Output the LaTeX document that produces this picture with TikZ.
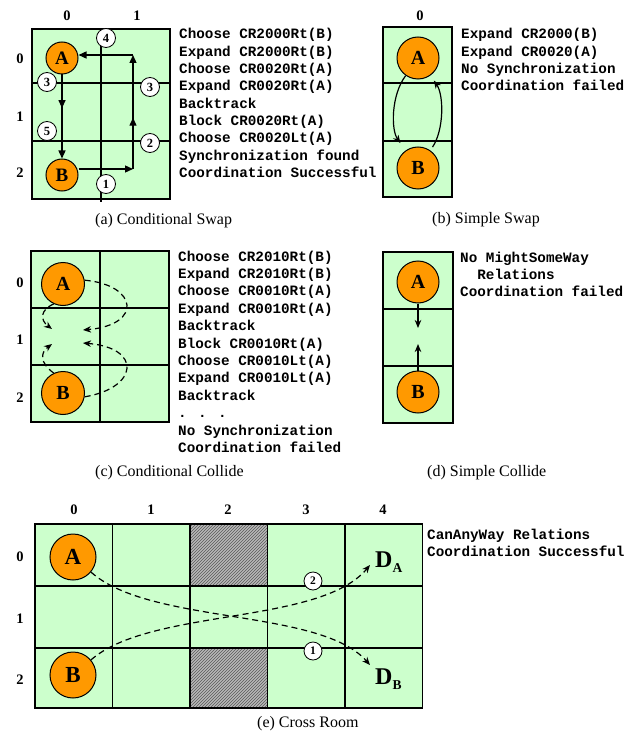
\documentclass[tikz,border=0pt]{standalone}
\usepackage{fontspec}
\setmainfont{Liberation Serif}
\newfontfamily\codefont{Liberation Mono}
\usetikzlibrary{arrows.meta,decorations.markings,patterns,calc}
\definecolor{cellgreen}{HTML}{CCFFCC}
\definecolor{agentorange}{HTML}{FF9900}
\definecolor{hatchgray}{HTML}{B8B8B8}
\begin{document}
\begin{tikzpicture}[x=1pt,y=-1pt,
  gridline/.style={line width=1.3pt},
  border/.style={line width=1.8pt},
  agent/.style={circle, draw, line width=1pt, fill=agentorange, inner sep=0pt},
  numc/.style={circle, draw, line width=0.8pt, fill=white, inner sep=0pt, minimum size=19pt, font=\bfseries\fontsize{12.5}{12.5}\selectfont},
  code/.style={anchor=base west, inner sep=0pt, font=\codefont\bfseries\fontsize{14.3}{17}\selectfont},
  idx/.style={inner sep=0pt, font=\bfseries\fontsize{14.5}{14.5}\selectfont},
  caption/.style={inner sep=0pt, anchor=base west, font=\fontsize{16}{18}\selectfont},
  solidarr/.style={line width=1.3pt, -{Triangle[length=8pt,width=7pt]}},
  curvearr/.style={line width=1.2pt, -{Stealth[length=8pt,width=6.5pt,inset=2.5pt]}},
  dasharr/.style={curvearr, dash pattern=on 6pt off 4pt},
  midtri/.style={postaction={decorate}, decoration={markings, mark=at position #1 with {\arrow{Triangle[length=8pt,width=7pt]}}}},
]
\useasboundingbox (0,0) rectangle (637,738);

% ================= (a) Conditional Swap =================
\fill[cellgreen] (32,29) rectangle (170,199);
\draw[gridline] (32,83) -- (170,83);
\draw[gridline] (32,141) -- (170,141);
\draw[gridline] (101,29) -- (101,202);
\draw[border] (32,29) rectangle (170,199);
\node[idx] (ac0) at (67,16) {0};
\node[idx] (ac1) at (137,16) {1};
\node[idx] (ar0) at (20,59) {0};
\node[idx] (ar1) at (20,117) {1};
\node[idx] (ar2) at (20,173) {2};
\node[agent, minimum size=32pt, font=\bfseries\fontsize{19}{19}\selectfont] (aA) at (62,58) {A};
\node[agent, minimum size=32pt, font=\bfseries\fontsize{19}{19}\selectfont] (aB) at (62,175) {B};
\coordinate (ac1p) at (133,169);
\coordinate (ac2p) at (133,55);
\draw[solidarr, midtri=0.4] (aA.south) -- (aB.north);
\draw[solidarr] (ac1p -| aB.east) -- (ac1p);
\draw[solidarr, midtri=0.45] (ac1p) -- (ac2p);
\draw[solidarr] (ac2p) -- (ac2p -| aA.east);
\node[numc] (an4) at (106,38) {4};
\node[numc] (an3a) at (47,82) {3};
\node[numc] (an3b) at (150,87) {3};
\node[numc] (an5) at (47,131) {5};
\node[numc] (an2) at (150,143) {2};
\node[numc] (an1) at (106,184) {1};
\foreach \t [count=\i from 0] in {{Choose CR2000Rt(B)},{Expand CR2000Rt(B)},{Choose CR0020Rt(A)},{Expand CR0020Rt(A)},{Backtrack},{Block CR0020Rt(A)},{Choose CR0020Lt(A)},{Synchronization found},{Coordination Successful}}
  \node[code] (at\i) at (179,39+17.3*\i) {\t};
\node[caption] (acap) at (95,224) {(a) Conditional Swap};

% ================= (b) Simple Swap =================
\fill[cellgreen] (383,27) rectangle (452,197);
\draw[gridline] (383,83) -- (452,83);
\draw[gridline] (383,141) -- (452,141);
\draw[border] (383,27) rectangle (452,197);
\node[idx] (bc0) at (420,16) {0};
\node[agent, minimum size=42pt, font=\bfseries\fontsize{20}{20}\selectfont] (bA) at (418,58) {A};
\node[agent, minimum size=42pt, font=\bfseries\fontsize{20}{20}\selectfont] (bB) at (418,168) {B};
\draw[curvearr, shorten >=9pt] (bA.235) .. controls (391,95) and (391,130) .. (bB.125);
\draw[curvearr, shorten <=4pt, shorten >=6pt] (bB.55) .. controls (444,130) and (444,95) .. (bA.-55);
\foreach \t [count=\i from 0] in {{Expand CR2000(B)},{Expand CR0020(A)},{No Synchronization},{Coordination failed}}
  \node[code] (bt\i) at (461,39+17.3*\i) {\t};
\node[caption] (bcap) at (432,223) {(b) Simple Swap};

% ================= (c) Conditional Collide =================
\fill[cellgreen] (31,251) rectangle (169,422);
\draw[gridline] (31,308) -- (169,308);
\draw[gridline] (31,365) -- (169,365);
\draw[gridline] (100,251) -- (100,422);
\draw[border] (31,251) rectangle (169,422);
\node[idx] (cr0) at (20,283) {0};
\node[idx] (cr1) at (20,340) {1};
\node[idx] (cr2) at (20,398) {2};
\node[agent, minimum size=43pt, font=\bfseries\fontsize{20}{20}\selectfont] (cA) at (63,284) {A};
\node[agent, minimum size=43pt, font=\bfseries\fontsize{20}{20}\selectfont] (cB) at (63,393) {B};
\coordinate (cq1) at (83,330);
\coordinate (cq2) at (52,329);
\coordinate (cq3) at (52,344);
\coordinate (cq4) at (83,343);
\draw[dasharr] (cA.10) .. controls (138,285) and (143,325) .. (cq1);
\draw[dasharr] (cA.245) .. controls (40,310) and (40,320) .. (cq2);
\draw[dasharr] (cB.115) .. controls (40,363) and (40,353) .. (cq3);
\draw[dasharr] (cB.-10) .. controls (138,388) and (143,348) .. (cq4);
\foreach \t [count=\i from 0] in {{Choose CR2010Rt(B)},{Expand CR2010Rt(B)},{Choose CR0010Rt(A)},{Expand CR0010Rt(A)},{Backtrack},{Block CR0010Rt(A)},{Choose CR0010Lt(A)},{Expand CR0010Lt(A)},{Backtrack},{. . .},{No Synchronization},{Coordination failed}}
  \node[code] (ct\i) at (178,261+17.4*\i) {\t};
\node[caption] (ccap) at (95,476) {(c) Conditional Collide};

% ================= (d) Simple Collide =================
\fill[cellgreen] (383,252) rectangle (453,423);
\draw[gridline] (383,309) -- (453,309);
\draw[gridline] (383,366) -- (453,366);
\draw[border] (383,252) rectangle (453,423);
\node[agent, minimum size=42pt, font=\bfseries\fontsize{20}{20}\selectfont] (dA) at (418,282) {A};
\node[agent, minimum size=42pt, font=\bfseries\fontsize{20}{20}\selectfont] (dB) at (418,392) {B};
\coordinate (dq1) at (418,328);
\coordinate (dq2) at (418,344);
\draw[curvearr] (dA.south) -- (dq1);
\draw[curvearr] (dB.north) -- (dq2);
\node[code] (dt0) at (460,262) {No MightSomeWay};
\node[code] (dt1) at (477.2,279.3) {Relations};
\node[code] (dt2) at (460,296.6) {Coordination failed};
\node[caption] (dcap) at (427,476) {(d) Simple Collide};

% ================= (e) Cross Room =================
\fill[cellgreen] (35,524) rectangle (422.5,708);
\fill[hatchgray] (190,524) rectangle (267.5,586);
\fill[hatchgray] (190,648) rectangle (267.5,708);
\fill[pattern=north east lines, pattern color=black!65] (190,524) rectangle (267.5,586);
\fill[pattern=north east lines, pattern color=black!65] (190,648) rectangle (267.5,708);
\foreach \xx in {112.5,190,267.5,345} \draw[gridline] (\xx,524) -- (\xx,708);
\draw[gridline] (35,586) -- (422.5,586);
\draw[gridline] (35,648) -- (422.5,648);
\draw[border] (35,524) rectangle (422.5,708);
\foreach \lab/\xx in {0/74,1/151,2/228,3/306,4/383}
  \node[idx] (ec\lab) at (\xx,510) {\lab};
\node[idx] (er0) at (20,557) {0};
\node[idx] (er1) at (20,619) {1};
\node[idx] (er2) at (20,680) {2};
\node[agent, minimum size=46pt, font=\bfseries\fontsize{23}{23}\selectfont] (eA) at (73,557) {A};
\node[agent, minimum size=46pt, font=\bfseries\fontsize{23}{23}\selectfont] (eB) at (73,675) {B};
\node[anchor=base west, inner sep=0pt, font=\bfseries\fontsize{24}{24}\selectfont] (eDA) at (375,567) {D\raisebox{-5pt}{\fontsize{13.5}{13.5}\selectfont A}};
\node[anchor=base west, inner sep=0pt, font=\bfseries\fontsize{24}{24}\selectfont] (eDB) at (375,684) {D\raisebox{-5pt}{\fontsize{13.5}{13.5}\selectfont B}};
\coordinate (etA) at (370,565);
\coordinate (etB) at (370,665);
\draw[dasharr] (eA.-40) .. controls (150,625) and (320,608) .. (etB);
\draw[dasharr] (eB.40) .. controls (150,608) and (320,625) .. (etA);
\node[numc, minimum size=18pt, font=\bfseries\fontsize{11.5}{11.5}\selectfont] (en2) at (313,581) {2};
\node[numc, minimum size=18pt, font=\bfseries\fontsize{11.5}{11.5}\selectfont] (en1) at (313,651) {1};
\node[code] (et0) at (427,539) {CanAnyWay Relations};
\node[code] (et1) at (427,556.3) {Coordination Successful};
\node[caption] (ecap) at (257,727) {(e) Cross Room};
\end{tikzpicture}
\end{document}
